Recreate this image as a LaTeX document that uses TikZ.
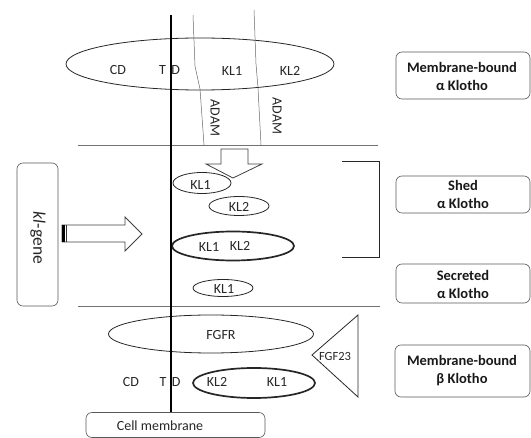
\documentclass[tikz,border=0pt]{standalone}
\usepackage{fontspec}
\setmainfont{Carlito}
\usetikzlibrary{shapes.geometric}
\begin{document}
\begin{tikzpicture}[x=1pt,y=-1pt,
 ell/.style={draw=black!85, ellipse, inner sep=0pt, line width=0.8pt},
 thickell/.style={ell, line width=1.7pt},
 lbl/.style={font=\fontsize{14}{16}\selectfont, inner sep=0pt, text=black!85},
 sidebox/.style={draw=black!65, rounded corners=6pt, line width=0.6pt},
 boxtext/.style={align=center, inner sep=0pt, text=black!90, font=\fontsize{14.5}{18}\selectfont\bfseries},
 sepline/.style={draw=black!55, line width=0.8pt},
 adamline/.style={draw=black!60, line width=0.5pt},
 blockarrow/.style={draw=black!75, line width=0.8pt, fill=white},
]
\useasboundingbox (0,0) rectangle (531,438);

% separators
\coordinate (s1a) at (78,145); \coordinate (s1b) at (378,145);
\coordinate (s2a) at (78,306); \coordinate (s2b) at (380,306);
\draw[sepline] (s1a) -- (s1b);
\draw[sepline] (s2a) -- (s2b);

% top ellipse (membrane-bound alpha Klotho)
\node[ell, minimum width=268pt, minimum height=52pt] (ta) at (200,64) {};

% ADAM lines
\coordinate (a1) at (193,15); \coordinate (a1b) at (195,66); \coordinate (a1c) at (200,89); \coordinate (a1d) at (204,145);
\coordinate (a2) at (254,10); \coordinate (a2b) at (256,64); \coordinate (a2c) at (258,88); \coordinate (a2d) at (261,145);
\draw[adamline] (a1) -- (a1b) -- (a1c) -- (a1d);
\draw[adamline] (a2) -- (a2b) -- (a2c) -- (a2d);
\node[lbl, rotate=-90] (adam1) at (215,118) {ADAM};
\node[lbl, rotate=-90] (adam2) at (277,116) {ADAM};

\node[lbl] (cd1) at (118,70) {CD};
\node[lbl] (td1) at (169.5,70) {T\kern5.5pt D};
\node[lbl] (kl1t) at (232,71) {KL1};
\node[lbl] (kl2t) at (290,71) {KL2};

% down block arrow
\draw[blockarrow] (221,149) -- (248,149) -- (248,164) -- (262,164) -- (233,178) -- (206,164) -- (221,164) -- cycle;

% shed / secreted ellipses
\node[ell, minimum width=58pt, minimum height=21pt] (e1) at (202,183) {};
\node[lbl] at (200.5,184.5) {KL1};
\node[ell, minimum width=60pt, minimum height=19pt] (e2) at (239,206) {};
\node[lbl] at (239,207) {KL2};
\node[thickell, minimum width=122pt, minimum height=29pt] (e3) at (233,246) {};
\node[lbl] at (209,247) {KL1};
\node[lbl] at (240,246) {KL2};
\node[ell, minimum width=60pt, minimum height=17pt] (e4) at (223,288) {};
\node[lbl] at (224,289) {KL1};

% bracket
\coordinate (b1) at (342,162); \coordinate (b2) at (379,162);
\coordinate (b3) at (379,258); \coordinate (b4) at (342,258);
\draw[black!85, line width=1pt] (b1) -- (b2) -- (b3) -- (b4);

% kl-gene box and arrow
\node[sidebox, minimum width=41pt, minimum height=143pt] (gene) at (37.5,234.5) {};
\node[lbl, rotate=-90, font=\fontsize{17.5}{19}\selectfont] at (38,238) {\itshape kl\upshape-gene};
\draw[blockarrow] (62,225) -- (125,225) -- (125,217) -- (142,234) -- (125,251) -- (125,242) -- (62,242) -- cycle;
\fill[black] (62,225) rectangle (64.8,242);
\draw[black!80, line width=0.7pt] (66.3,225) -- (66.3,242);

% right boxes
\node[sidebox, minimum width=134pt, minimum height=47pt] (mba) at (463,75.5) {};
\node[boxtext] at (462,76) {Membrane-bound\\α Klotho};
\node[sidebox, minimum width=134pt, minimum height=37pt] (shed) at (463,194.5) {};
\node[boxtext] at (463,194) {Shed\\α Klotho};
\node[sidebox, minimum width=134pt, minimum height=39pt] (secr) at (463,283.5) {};
\node[boxtext] at (463,284) {Secreted\\α Klotho};
\node[sidebox, minimum width=135pt, minimum height=52pt] (mbb) at (462.5,371) {};
\node[boxtext] at (462,371) {Membrane-bound\\β Klotho};

% bottom: FGFR, beta Klotho, FGF23
\node[ell, minimum width=205pt, minimum height=38pt] (fgfr) at (211,334) {};
\node[lbl] at (221,335) {FGFR};
\node[thickell, minimum width=122pt, minimum height=30pt] (bk) at (254,383) {};
\node[lbl] at (217,382) {KL2};
\node[lbl] at (277,382) {KL1};
\node[lbl] (cd2) at (131,382) {CD};
\node[lbl] (td2) at (170,382) {T\kern5.5pt D};
\coordinate (t1) at (358,315); \coordinate (t2) at (358,397); \coordinate (t3) at (312,355);
\draw[black!85, line width=0.8pt] (t1) -- (t2) -- (t3) -- cycle;
\node[lbl, font=\fontsize{12.5}{14}\selectfont] (fgf) at (335,356) {FGF23};

% cell membrane
\node[sidebox, minimum width=179pt, minimum height=25pt] (cm) at (175.5,425) {};
\node[lbl] at (160,426) {Cell membrane};
\coordinate (memtop) at (171,15);
\draw[black, line width=1.4pt] (memtop) -- (memtop |- cm.north);
\end{tikzpicture}
\end{document}
